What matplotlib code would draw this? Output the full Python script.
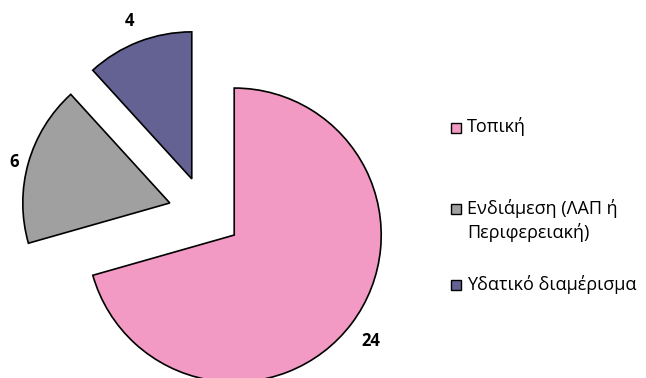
import numpy as np
import matplotlib
matplotlib.use("Agg")
import matplotlib.pyplot as plt
from matplotlib.patches import Rectangle

# counts per category
categories = ["Τοπική", "Ενδιάμεση (ΛΑΠ ή\nΠεριφερειακή)", "Υδατικό διαμέρισμα"]
values = [24, 6, 4]
colors = ["#F29AC3", "#A0A0A0", "#636293"]

plt.rcParams["font.family"] = ["Open Sans", "DejaVu Sans"]

fig = plt.figure(figsize=(6.46, 3.78), dpi=100)
ax = fig.add_axes([0, 0, 1, 1])

radius = 147
center = (205, 165)
wedges, _ = ax.pie(values, colors=colors, startangle=90, counterclock=False,
                   radius=radius, center=center, explode=[36.6] * 3,
                   wedgeprops=dict(edgecolor="black", linewidth=1.2))
ax.set_xlim(0, 646)
ax.set_ylim(0, 378)
ax.set_aspect("equal")
ax.axis("off")

# value labels outside each wedge
label_dist = [1.165, 1.10, 1.17]
for w, v, d in zip(wedges, values, label_dist):
    mid = np.deg2rad((w.theta1 + w.theta2) / 2)
    cx, cy = w.center
    ax.text(cx + radius * d * np.cos(mid), cy + radius * d * np.sin(mid) - 3, str(v),
            ha="center", va="center", fontsize=12, fontweight="bold")

# legend
ys = [251, 170, 94]
for lab, col, y in zip(categories, colors, ys):
    ax.add_patch(Rectangle((451, y - 5.5), 10, 10, facecolor=col,
                           edgecolor="black", linewidth=1))
    lines = lab.split("\n")
    for i, line in enumerate(lines):
        ax.text(467, y - 24 * i, line, ha="left", va="center", fontsize=13)

fig.savefig("out.png", dpi=100)
